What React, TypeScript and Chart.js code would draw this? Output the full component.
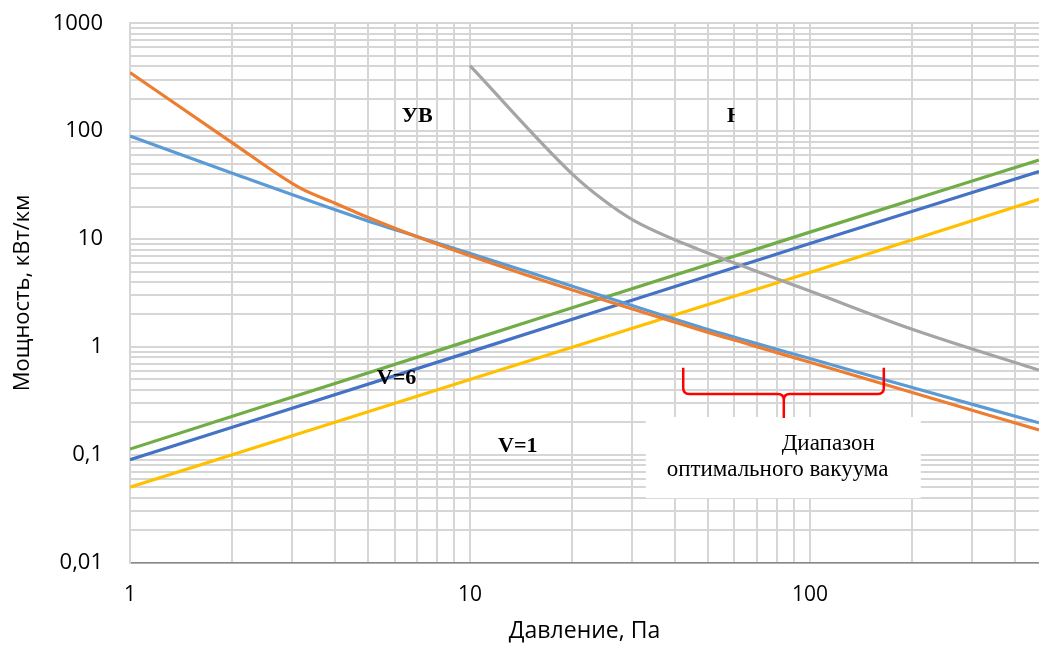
import React, { useEffect, useRef } from 'react';
import { Chart, registerables } from 'chart.js';

Chart.register(...registerables);

// ---- data ----
const pressureLightBlue = [1, 2, 4.74, 7, 14, 47.5, 66.6, 100, 200, 472];
const powerLightBlue = [90, 40.7, 15.6, 10.5, 5.25, 1.53, 1.12, 0.78, 0.42, 0.198];

const pressureOrange = [1, 2, 3.16, 4, 4.74, 7, 14, 47.5, 66.6, 100, 200, 472];
const powerOrange = [350, 78, 29.8, 21.6, 17.1, 10.5, 4.88, 1.44, 1.05, 0.72, 0.378, 0.17];

const pressureGray = [10, 19.9, 24.7, 30.2, 47.5, 60, 100, 200, 472];
const powerGray = [405, 40.7, 23, 15, 7.9, 6.0, 3.3, 1.46, 0.61];

const pressureLinear = [1, 10, 100, 472];
const powerGreen = [0.113, 1.15, 11.6, 54];
const powerDarkBlue = [0.09, 0.9, 9.1, 42.2];
const powerYellow = [0.05, 0.5, 4.9, 23.4];

// ---- axes ----
const xMin = 1;
const xMax = 472;
const yMin = 0.01;
const yMax = 1000;
const xDecades = [1, 10, 100];
const xDecadeLabels = ['1', '10', '100'];
const yDecades = [0.01, 0.1, 1, 10, 100, 1000];
const yDecadeLabels = ['0,01', '0,1', '1', '10', '100', '1000'];
const minorSteps = [1, 2, 3, 4, 5, 6, 7, 8, 9];

const xTitle = 'Давление, Па';
const yTitle = 'Мощность, кВт/км';

// ---- annotations (data coordinates) ----
const labelUV = { text: 'УВ', x: 6.3, y: 122 };
const labelN = { text: 'Н', x: 57, y: 122, clipX: 60.1 };
const labelV6 = { text: 'V=6', x: 5.32, y: 0.454 };
const labelV1 = { text: 'V=1', x: 12.1, y: 0.107 };
const boxX = [32.9, 212];
const boxY = [0.224, 0.0397];
const boxLine1 = { text: 'Диапазон', x: 82.6, y: 0.111 };
const boxLine2 = { text: 'оптимального вакуума', x: 37.9, y: 0.064 };
const braceX = [42.4, 83.8, 165];
const braceY = [0.643, 0.367, 0.22];

const FONT = "'Open Sans', sans-serif";

function buildTicks(decades: number[], max: number) {
  const out: number[] = [];
  decades.forEach((d) => minorSteps.forEach((m) => {
    const v = d * m;
    if (v <= max * 1.0001) out.push(v);
  }));
  return out;
}

function labelFor(v: number, decades: number[], labels: string[]) {
  for (let i = 0; i < decades.length; i++) {
    if (Math.abs(v - decades[i]) / decades[i] < 1e-6) return labels[i];
  }
  return '';
}

const pts = (xs: number[], ys: number[]) => xs.map((x, i) => ({ x, y: ys[i] }));

const annotPlugin = {
  id: 'annot',
  afterDatasetsDraw(chart: any) {
    const { ctx } = chart;
    const xs = chart.scales.x;
    const ys = chart.scales.y;
    const px = (v: number) => xs.getPixelForValue(v);
    const py = (v: number) => ys.getPixelForValue(v);
    ctx.save();
    // white text box
    ctx.fillStyle = '#ffffff';
    ctx.fillRect(px(boxX[0]), py(boxY[0]), px(boxX[1]) - px(boxX[0]), py(boxY[1]) - py(boxY[0]));

    ctx.fillStyle = '#000000';
    ctx.textAlign = 'left';
    ctx.textBaseline = 'alphabetic';
    ctx.font = "bold 22px 'Liberation Serif', serif";
    [labelUV, labelV6, labelV1].forEach((l) => ctx.fillText(l.text, px(l.x), py(l.y)));
    ctx.save();
    ctx.beginPath();
    ctx.rect(0, 0, px(labelN.clipX), chart.height);
    ctx.clip();
    ctx.fillText(labelN.text, px(labelN.x), py(labelN.y));
    ctx.restore();

    ctx.font = "23px 'Liberation Serif', serif";
    [boxLine1, boxLine2].forEach((l) => ctx.fillText(l.text, px(l.x), py(l.y)));

    // red brace
    const xl = px(braceX[0]);
    const xc = px(braceX[1]);
    const xr = px(braceX[2]);
    const yt = py(braceY[0]);
    const ym = py(braceY[1]);
    const yb = py(braceY[2]);
    const r = 6;
    ctx.strokeStyle = '#ff0000';
    ctx.lineWidth = 2.5;
    ctx.lineJoin = 'round';
    ctx.beginPath();
    ctx.moveTo(xl, yt);
    ctx.lineTo(xl, ym - r);
    ctx.quadraticCurveTo(xl, ym, xl + r, ym);
    ctx.lineTo(xc - r, ym);
    ctx.quadraticCurveTo(xc, ym, xc, ym + r);
    ctx.lineTo(xc, yb);
    ctx.moveTo(xc, ym + r);
    ctx.quadraticCurveTo(xc, ym, xc + r, ym);
    ctx.lineTo(xr - r, ym);
    ctx.quadraticCurveTo(xr, ym, xr, ym - r);
    ctx.lineTo(xr, yt);
    ctx.stroke();
    ctx.restore();
  },
};

export default function App() {
  const ref = useRef<HTMLCanvasElement>(null);
  useEffect(() => {
    const xTicks = buildTicks(xDecades, xMax);
    const yTicks = buildTicks(yDecades, yMax);
    const ds = (label: string, data: any[], color: string, order: number) => ({
      label,
      data,
      borderColor: color,
      backgroundColor: color,
      borderWidth: 3.2,
      pointRadius: 0,
      cubicInterpolationMode: 'monotone' as const,
      fill: false,
      order,
    });
    const chart = new Chart(ref.current as HTMLCanvasElement, {
      type: 'line',
      data: {
        datasets: [
          ds('Кривая 1', pts(pressureLightBlue, powerLightBlue), '#5B9BD5', 2),
          ds('Кривая 2', pts(pressureOrange, powerOrange), '#ED7D31', 1),
          ds('Кривая 3', pts(pressureGray, powerGray), '#A5A5A5', 3),
          ds('V=1', pts(pressureLinear, powerYellow), '#FFC000', 4),
          ds('V=6', pts(pressureLinear, powerDarkBlue), '#4472C4', 5),
          ds('V=8', pts(pressureLinear, powerGreen), '#70AD47', 6),
        ],
      },
      options: {
        responsive: false,
        animation: false,
        layout: { padding: { top: 23.3, left: 0, right: 0, bottom: 0 } },
        plugins: { legend: { display: false }, tooltip: { enabled: false }, title: { display: false } },
        scales: {
          x: {
            type: 'logarithmic',
            min: xMin,
            max: xMax,
            afterBuildTicks: (s: any) => { s.ticks = xTicks.map((v) => ({ value: v })); },
            afterFit: (s: any) => { s.height = 82.3; s.paddingLeft = 0; s.paddingRight = 0; },
            ticks: {
              autoSkip: false,
              maxRotation: 0,
              padding: 20,
              color: '#000000',
              font: { family: FONT, size: 21 },
              callback: (v: any) => labelFor(Number(v), xDecades, xDecadeLabels),
            },
            grid: { color: '#d6d6d6', lineWidth: 2, drawTicks: false },
            border: { color: '#898989', width: 1.5 },
            title: { display: true, text: xTitle, color: '#000000', font: { family: FONT, size: 23 }, padding: { top: 0, bottom: 0 } },
          },
          y: {
            type: 'logarithmic',
            min: yMin,
            max: yMax,
            afterBuildTicks: (s: any) => { s.ticks = yTicks.map((v) => ({ value: v })); },
            afterFit: (s: any) => { s.width = 130; s.paddingTop = 0; s.paddingBottom = 0; },
            ticks: {
              autoSkip: false,
              padding: 27,
              color: '#000000',
              font: { family: FONT, size: 22 },
              callback: (v: any) => labelFor(Number(v), yDecades, yDecadeLabels),
            },
            grid: { color: '#d6d6d6', lineWidth: 2, drawTicks: false },
            border: { color: '#d6d6d6', width: 2 },
            title: { display: true, text: yTitle, color: '#000000', font: { family: FONT, size: 22 }, padding: { top: 10, bottom: 0 } },
          },
        },
      } as any,
      plugins: [annotPlugin],
    });
    return () => chart.destroy();
  }, []);
  return (
    <div style={{ position: 'absolute', left: 0, top: 0, width: 1039, height: 645 }}>
      <canvas ref={ref} width={1039} height={645} style={{ display: 'block' }} />
    </div>
  );
}
